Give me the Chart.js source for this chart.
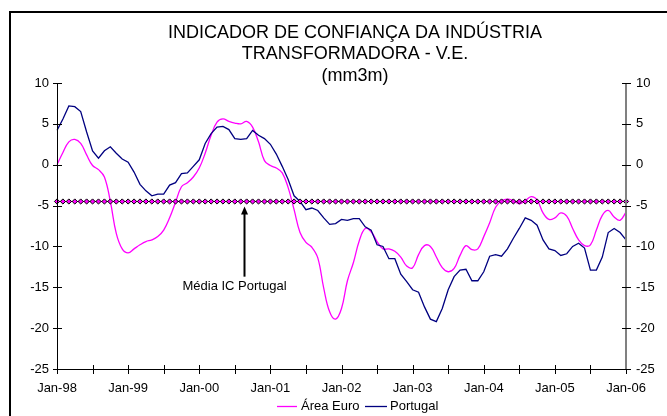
<!DOCTYPE html>
<html>
<head>
<meta charset="utf-8">
<script src="https://cdn.jsdelivr.net/npm/chart.js@4/dist/chart.umd.min.js"></script>
<style>
html,body{margin:0;padding:0;background:#fff;}
canvas{display:block;}
</style>
</head>
<body>
<canvas id="c" width="667" height="416"></canvas>
<script>
// ---- data ----
const titleLines = ['INDICADOR DE CONFIANÇA DA INDÚSTRIA', 'TRANSFORMADORA - V.E.', '(mm3m)'];
const monthNames = ['Jan','Feb','Mar','Apr','May','Jun','Jul','Aug','Sep','Oct','Nov','Dec'];
const years = ['98','99','00','01','02','03','04','05','06'];
const categories = [];
years.forEach((y, yi) => monthNames.forEach((m, mi) => { if (yi < 8 || mi === 0) categories.push(m + '-' + y); }));

const areaEuro = [
  0.0, 1.5, 2.8, 3.1, 2.6, 1.2, -0.1, -0.6, -1.5, -4.5,
  -8.4, -10.3, -10.8, -10.3, -9.8, -9.4, -9.2, -8.8, -8.0, -6.5,
  -4.6, -2.7, -2.2, -1.5, -0.4, 1.4, 3.6, 5.2, 5.6, 5.3,
  5.1, 5.0, 5.3, 4.6, 2.8, 0.5, -0.1, -0.4, -1.0, -2.8,
  -5.5, -8.3, -9.5, -10.1, -11.4, -15.1, -18.0, -18.9, -17.6, -14.2,
  -12.0, -9.3, -7.8, -8.2, -9.4, -10.3, -10.3, -10.6, -11.3, -12.4,
  -12.6, -11.0, -9.9, -10.0, -11.3, -12.6, -13.1, -12.7, -11.1, -9.9,
  -10.4, -10.3, -8.8, -7.1, -5.2, -4.4, -4.2, -4.4, -4.8, -4.4,
  -3.9, -4.3, -5.9, -6.7, -6.5, -5.9, -6.3, -7.8, -9.2, -9.9,
  -9.8, -8.0, -6.2, -5.6, -6.4, -6.8, -5.8
];
const portugal = [
  4.2, 5.6, 7.2, 7.1, 6.5, 4.0, 1.7, 0.8, 1.7, 2.2,
  1.4, 0.7, 0.3, -0.9, -2.4, -3.2, -3.8, -3.6, -3.6, -2.5,
  -2.2, -1.1, -1.0, -0.2, 0.6, 2.6, 3.8, 4.6, 4.7, 4.3,
  3.2, 3.1, 3.2, 4.2, 3.6, 3.2, 2.5, 1.3, -0.2, -1.8,
  -3.8, -4.5, -5.5, -5.3, -5.6, -6.5, -7.3, -7.2, -6.7, -6.8,
  -6.6, -6.6, -7.6, -8.0, -9.8, -10.0, -11.5, -11.5, -13.4, -14.3,
  -15.3, -15.6, -17.4, -18.9, -19.2, -17.6, -15.3, -13.7, -12.9, -12.8,
  -14.2, -14.2, -13.1, -11.2, -11.0, -11.2, -10.3, -9.0, -7.8, -6.5,
  -6.8, -7.4, -9.2, -10.3, -10.5, -11.1, -10.9, -10.0, -9.6, -10.2,
  -12.9, -12.9, -11.3, -8.3, -7.8, -8.3, -9.2
];
const mediaPortugal = -4.5;
const yTicks = [-25, -20, -15, -10, -5, 0, 5, 10];
const annotationText = 'Média IC Portugal';
const legendLabels = ['Área Euro', 'Portugal'];

// ---- chart ----
const FONT = "'Liberation Sans', Arial, sans-serif";
Chart.defaults.font.family = FONT;
Chart.defaults.font.size = 13;
Chart.defaults.color = '#000';

const colEuro = '#FF00FF', colPt = '#000080';

const decor = {
  id: 'decor',
  beforeDraw(chart) {
    const ctx = chart.ctx;
    ctx.save();
    ctx.fillStyle = '#fff';
    ctx.fillRect(0, 0, chart.width, chart.height);
    ctx.strokeStyle = '#000';
    ctx.lineWidth = 2;
    ctx.beginPath();
    ctx.moveTo(10, chart.height + 2);
    ctx.lineTo(10, 12);
    ctx.lineTo(chart.width + 2, 12);
    ctx.stroke();
    // title
    ctx.fillStyle = '#000';
    ctx.font = '18px ' + FONT;
    ctx.textAlign = 'center';
    ctx.textBaseline = 'middle';
    const ty = [33, 54.5, 76];
    titleLines.forEach((t, i) => ctx.fillText(t, 355, ty[i]));
    ctx.restore();
  },
  afterDraw(chart) {
    const ctx = chart.ctx, a = chart.chartArea;
    const xs = chart.scales.x, ys = chart.scales.y;
    ctx.save();
    // axes
    ctx.lineWidth = 1;
    ctx.strokeStyle = '#000';
    ctx.beginPath();
    ctx.moveTo(Math.round(a.left) + 0.5, a.top);
    ctx.lineTo(Math.round(a.left) + 0.5, a.bottom);
    ctx.moveTo(a.left, Math.round(a.bottom) + 0.5);
    ctx.lineTo(a.right, Math.round(a.bottom) + 0.5);
    ctx.stroke();
    yTicks.forEach(v => {
      const y = Math.round(ys.getPixelForValue(v)) + 0.5;
      ctx.beginPath();
      ctx.moveTo(a.left - 4, y); ctx.lineTo(a.left + 5, y);
      ctx.stroke();
    });
    for (let i = 0; i < categories.length; i += 6) {
      const x = Math.round(xs.getPixelForValue(i)) + 0.5;
      ctx.beginPath();
      ctx.moveTo(x, a.bottom - 4); ctx.lineTo(x, a.bottom + 5);
      ctx.stroke();
    }
    // right axis (grey)
    ctx.strokeStyle = '#808080';
    ctx.lineWidth = 2;
    ctx.beginPath();
    ctx.moveTo(a.right, a.top); ctx.lineTo(a.right, a.bottom + 1);
    ctx.stroke();
    ctx.lineWidth = 1;
    ctx.strokeStyle = '#000';
    yTicks.forEach(v => {
      const y = Math.round(ys.getPixelForValue(v)) + 0.5;
      ctx.beginPath();
      ctx.moveTo(a.right - 4, y); ctx.lineTo(a.right + 5, y);
      ctx.stroke();
    });
    // annotation arrow
    const ax = Math.round(xs.getPixelForValue(31.6)) + 0.5;
    const tipY = ys.getPixelForValue(mediaPortugal) + 5;
    const baseY = ys.getPixelForValue(-13.7);
    ctx.strokeStyle = '#000';
    ctx.lineWidth = 2;
    ctx.beginPath();
    ctx.moveTo(ax, baseY); ctx.lineTo(ax, tipY + 6);
    ctx.stroke();
    ctx.fillStyle = '#000';
    ctx.beginPath();
    ctx.moveTo(ax, tipY); ctx.lineTo(ax - 3.5, tipY + 8); ctx.lineTo(ax + 3.5, tipY + 8);
    ctx.closePath(); ctx.fill();
    ctx.font = '13px ' + FONT;
    ctx.textAlign = 'center';
    ctx.textBaseline = 'middle';
    ctx.fillText(annotationText, ax - 10, ys.getPixelForValue(-14.9));
    // legend
    const ly = 406.5;
    ctx.textAlign = 'left';
    ctx.lineWidth = 1.3;
    ctx.strokeStyle = colEuro;
    ctx.beginPath(); ctx.moveTo(277, ly); ctx.lineTo(297, ly); ctx.stroke();
    ctx.fillText(legendLabels[0], 301, ly);
    ctx.strokeStyle = colPt;
    ctx.beginPath(); ctx.moveTo(365, ly); ctx.lineTo(387, ly); ctx.stroke();
    ctx.fillText(legendLabels[1], 390, ly);
    ctx.restore();
  }
};

new Chart(document.getElementById('c'), {
  type: 'line',
  data: {
    labels: categories,
    datasets: [
      { label: legendLabels[0], data: areaEuro, borderColor: colEuro, borderWidth: 1.3, pointRadius: 0, tension: 0.4, yAxisID: 'y', order: 3 },
      { label: legendLabels[1], data: portugal, borderColor: colPt, borderWidth: 1.3, pointRadius: 0, tension: 0, yAxisID: 'y', order: 2 },
      { label: annotationText, data: categories.map(() => mediaPortugal), borderColor: '#000', borderWidth: 1,
        pointStyle: 'rectRot', pointRadius: 2.6, pointBackgroundColor: colEuro, pointBorderColor: '#000', pointBorderWidth: 1,
        tension: 0, yAxisID: 'y', order: 1 }
    ]
  },
  options: {
    responsive: false,
    animation: false,
    events: [],
    layout: { padding: { top: 83, left: 0, right: 0, bottom: 0 } },
    plugins: { legend: { display: false }, title: { display: false }, tooltip: { enabled: false } },
    scales: {
      x: {
        type: 'category', offset: false,
        grid: { display: false, drawTicks: false }, border: { display: false },
        ticks: { autoSkip: false, maxRotation: 0, minRotation: 0, padding: 12,
          callback: (v, i) => (i % 12 === 0 ? categories[i] : '') },
        afterFit: s => { s.height = 47; }
      },
      y: {
        position: 'left', min: -25, max: 10,
        grid: { display: false, drawTicks: false }, border: { display: false },
        ticks: { stepSize: 5, padding: 8 },
        afterFit: s => { s.width = 57; }
      },
      y2: {
        position: 'right', min: -25, max: 10,
        grid: { display: false, drawTicks: false }, border: { display: false },
        ticks: { stepSize: 5, padding: 10 },
        afterFit: s => { s.width = 41; }
      }
    }
  },
  plugins: [decor]
});
</script>
</body>
</html>
